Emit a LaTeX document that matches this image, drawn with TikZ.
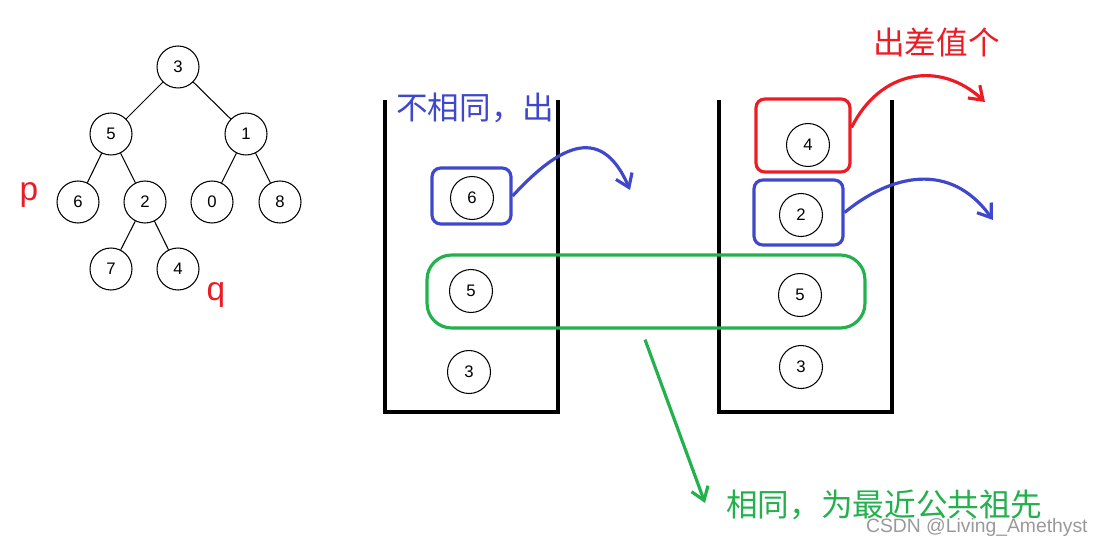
\documentclass[tikz,border=0pt]{standalone}
\usepackage{fontspec}
\setmainfont{Liberation Sans}
\newfontfamily\cjk{Noto Sans CJK SC}
\usepackage{tikz}
\usetikzlibrary{arrows.meta,positioning,calc}
\definecolor{markRed}{RGB}{236,28,36}
\definecolor{markBlue}{RGB}{63,72,204}
\definecolor{markGreen}{RGB}{34,177,76}

\begin{document}
\begin{tikzpicture}[
  x=0.02cm, y=-0.02cm,
  tnode/.style={
    draw,
    circle,
    line width=0.6pt,
    minimum size=0.84cm,
    inner sep=0pt,
    font=\fontsize{9.5}{10}\selectfont
  },
  snode/.style={tnode,minimum size=0.86cm},
  wall/.style={line width=2.3pt},
  mark/.style={draw=#1,line width=1.8pt,rounded corners=5pt},
  arrow/.style={-{Straight Barb[length=2.5mm,width=3.5mm]},line width=1.8pt,#1},
  note/.style={font=\cjk\fontsize{18}{20}\selectfont,anchor=west,inner sep=0pt}
]
\useasboundingbox (0,0) rectangle (1103,544);

% tree
\node[tnode] (t3) at (178,67) {3};
\node[tnode] (t5) at (111,134) {5};
\node[tnode] (t1) at (246,134) {1};
\node[tnode] (t6) at (78,202) {6};
\node[tnode] (t2) at (145,202) {2};
\node[tnode] (t0) at (212,202) {0};
\node[tnode] (t8) at (280,202) {8};
\node[tnode] (t7) at (111,269) {7};
\node[tnode] (t4) at (178,269) {4};
\draw[line width=0.6pt] (t3) -- (t5);
\draw[line width=0.6pt] (t3) -- (t1);
\draw[line width=0.6pt] (t5) -- (t6);
\draw[line width=0.6pt] (t5) -- (t2);
\draw[line width=0.6pt] (t1) -- (t0);
\draw[line width=0.6pt] (t1) -- (t8);
\draw[line width=0.6pt] (t2) -- (t7);
\draw[line width=0.6pt] (t2) -- (t4);
\node[text=markRed,font=\fontsize{19}{20}\selectfont] (plabel) at (29,195) {p};
\node[text=markRed,font=\fontsize{19}{20}\selectfont] (qlabel) at (216,295) {q};

% stacks
\draw[wall] (385,100) -- (385,412) -- (558,412) -- (558,100);
\draw[wall] (719,100) -- (719,412) -- (892,412) -- (892,100);
\node[snode] (p6) at (472,198) {6};
\node[snode] (p5) at (471,291) {5};
\node[snode] (p3) at (469,372) {3};
\node[snode] (q4) at (808,145) {4};
\node[snode] (q2) at (801,215) {2};
\node[snode] (q5) at (800,295) {5};
\node[snode] (q3) at (801,367) {3};

% marks
\node[mark=markBlue,minimum width=1.58cm,minimum height=1.12cm] (box6) at (471.5,196) {};
\node[mark=markRed,minimum width=1.88cm,minimum height=1.46cm] (box4) at (803,135.5) {};
\node[mark=markBlue,minimum width=1.78cm,minimum height=1.3cm] (box2) at (798.5,212.5) {};
\node[mark=markGreen,rounded corners=14pt,minimum width=8.76cm,minimum height=1.46cm] (same) at (646,291.5) {};

% texts
\node[note,text=markBlue] (outL) at (396,108) {不相同，出};
\node[note,text=markRed] (outR) at (873,42) {出差值个};
\node[note,text=markGreen] (lca) at (726,505) {相同，为最近公共祖先};
\node[anchor=east,text=black!40,font=\fontsize{11}{12}\selectfont,inner sep=0pt] (wm) at (1088,528) {CSDN @Living\_Amethyst};

% arrows
\coordinate (endL) at (630,190);
\coordinate (endR4) at (985,102);
\coordinate (endR2) at (993,220);
\coordinate (endG) at (705,503);
\draw[arrow=markBlue] (box6.east) .. controls (555,150) and (600,120) .. (endL);
\draw[arrow=markRed] (box4.east) ++(0,-8) .. controls (880,70) and (940,60) .. (endR4);
\draw[arrow=markBlue] (box2.east) .. controls (890,175) and (950,160) .. (endR2);
\draw[arrow=markGreen] ($(same.south)+(-1,10)$) -- (endG);
\end{tikzpicture}
\end{document}
